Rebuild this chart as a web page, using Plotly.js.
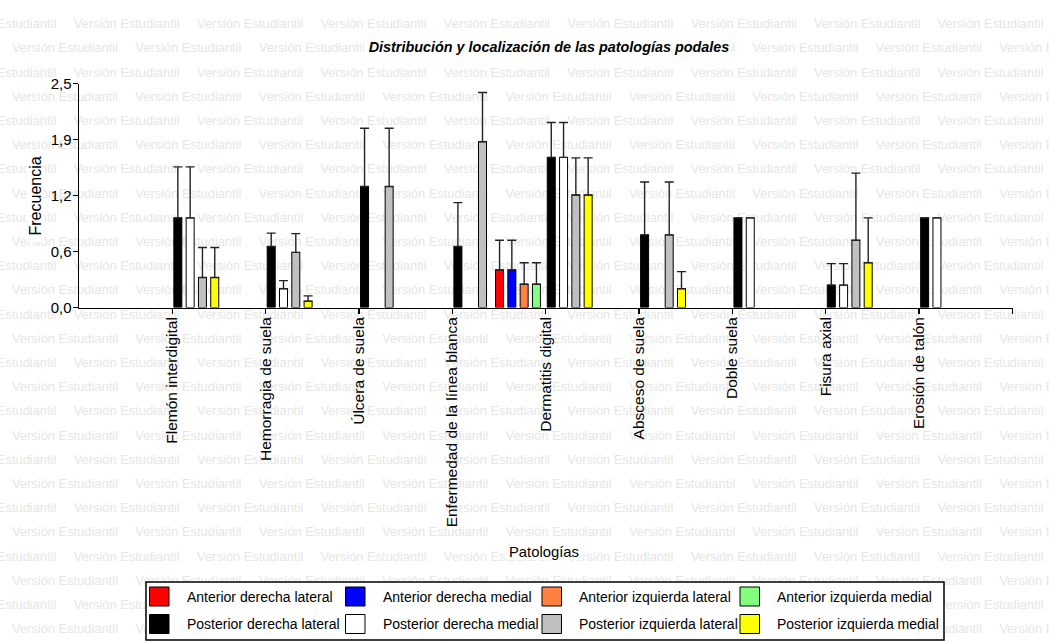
<!DOCTYPE html>
<html>
<head>
<meta charset="utf-8">
<script src="https://cdn.plot.ly/plotly-3.0.1.min.js"></script>
<style>
html,body{margin:0;padding:0;background:#fff;}
#chart{width:1049px;height:642px;}
</style>
</head>
<body>
<div id="chart"></div>
<script>
// ---------------- data ----------------
const categories = [
  'Flemón interdigital', 'Hemorragia de suela', 'Úlcera de suela',
  'Enfermedad de la línea blanca', 'Dermatitis digital', 'Absceso de suela',
  'Doble suela', 'Fisura axial', 'Erosión de talón'
];
const seriesNames = [
  'Anterior derecha lateral', 'Anterior derecha medial',
  'Anterior izquierda lateral', 'Anterior izquierda medial',
  'Posterior derecha lateral', 'Posterior derecha medial',
  'Posterior izquierda lateral', 'Posterior izquierda medial'
];
const seriesColors = ['#FF0000', '#0000FF', '#FF8040', '#80FF80', '#000000', '#FFFFFF', '#C0C0C0', '#FFFF00'];

const antDerLat     = [null, null, null, null, 0.42, null, null, null, null];
const antDerLatErr  = [null, null, null, null, 0.33, null, null, null, null];
const antDerMed     = [null, null, null, null, 0.42, null, null, null, null];
const antDerMedErr  = [null, null, null, null, 0.33, null, null, null, null];
const antIzqLat     = [null, null, null, null, 0.26, null, null, null, null];
const antIzqLatErr  = [null, null, null, null, 0.24, null, null, null, null];
const antIzqMed     = [null, null, null, null, 0.26, null, null, null, null];
const antIzqMedErr  = [null, null, null, null, 0.24, null, null, null, null];
const posDerLat     = [1.0, 0.68, 1.35, 0.68, 1.675, 0.81, 1.0, 0.25, 1.0];
const posDerLatErr  = [0.57, 0.15, 0.65, 0.49, 0.39, 0.59, null, 0.24, null];
const posDerMed     = [1.0, 0.21, null, null, 1.675, null, 1.0, 0.25, 1.0];
const posDerMedErr  = [0.57, 0.09, null, null, 0.39, null, null, 0.24, null];
const posIzqLat     = [0.335, 0.615, 1.35, 1.85, 1.255, 0.81, null, 0.75, null];
const posIzqLatErr  = [0.335, 0.21, 0.65, 0.55, 0.415, 0.59, null, 0.75, null];
const posIzqMed     = [0.335, 0.07, null, null, 1.255, 0.21, null, 0.5, null];
const posIzqMedErr  = [0.335, 0.06, null, null, 0.415, 0.19, null, 0.5, null];

const seriesValues = [antDerLat, antDerMed, antIzqLat, antIzqMed, posDerLat, posDerMed, posIzqLat, posIzqMed];
const seriesErrors = [antDerLatErr, antDerMedErr, antIzqLatErr, antIzqMedErr, posDerLatErr, posDerMedErr, posIzqLatErr, posIzqMedErr];

const yTickVals = [0, 0.625, 1.25, 1.875, 2.5];
const yTickText = ['0,0', '0,6', '1,2', '1,9', '2,5'];

const chartTitle = 'Distribución y localización de las patologías podales';
const xTitle = 'Patologías';
const yTitle = 'Frecuencia';
const watermarkText = 'Versión Estudiantil';

// ---------------- layout geometry (pixels) ----------------
const W = 1049, H = 642;
const plotL = 79, plotR = 1012.5, plotT = 83.5, plotB = 307.5;
const xMin = -1, xMax = categories.length;
const unitPx = (plotR - plotL) / (xMax - xMin);
const barPx = 8;
const barOffsetPx = [-50.2, -37.9, -25.6, -13.3, 1.5, 13.8, 26.1, 38.4];
const FONT = 'Liberation Sans, Arial, Helvetica, sans-serif';

const catIdx = categories.map((c, i) => i);

// legend box geometry
const lgL = 146, lgR = 944, lgT = 582, lgB = 640;
const colLeft = [149.5, 345.5, 542, 740];
const rowCenter = [596.5, 624];
// title mask box
const ttL = 364, ttR = 731, ttT = 37, ttB = 57;

// ---------------- traces ----------------
const traces = [];

// background watermark (on a hidden full-figure subplot, beneath the chart)
const wmX = [], wmY = [];
const wmHalf = 53.5;
function covered(cx, y, l, r, t, b) { return cx - wmHalf > l && cx + wmHalf < r && y > t && y < b; }
for (let r = 0; r < 27; r++) {
  const y = 25 + 24.2 * r;
  const shift = (r % 2 === 0) ? 3.3 : 65;
  for (let n = -1; n < 10; n++) {
    const cx = shift + 123.4 * n;
    if (cx + wmHalf < 0 || cx - wmHalf > W) continue;
    if (covered(cx, y, lgL, lgR, lgT, lgB) || covered(cx, y, ttL, ttR, ttT, ttB)) continue;
    wmX.push(cx); wmY.push(y);
  }
}
traces.push({
  type: 'scatter', mode: 'text', x: wmX, y: wmY,
  text: wmX.map(() => watermarkText), textposition: 'middle center',
  textfont: {family: FONT, size: 12.9, color: '#e6e6e6'},
  xaxis: 'x', yaxis: 'y', hoverinfo: 'skip', showlegend: false
});

seriesNames.forEach((name, k) => {
  traces.push({
    type: 'bar', name: name, xaxis: 'x2', yaxis: 'y2',
    x: catIdx, y: seriesValues[k],
    width: barPx / unitPx, offset: barOffsetPx[k] / unitPx,
    marker: {color: seriesColors[k], line: {color: '#000', width: 1}},
    error_y: {
      type: 'data', symmetric: false,
      array: seriesErrors[k], arrayminus: seriesErrors[k].map(v => v === null ? null : 0),
      color: '#222', thickness: 1.4, width: 4.5
    },
    showlegend: false,
    hovertemplate: '%{y}<extra>' + name + '</extra>'
  });
});

// ---------------- shapes & annotations ----------------
const shapes = [];
const annotations = [];
// white boxes behind titles
shapes.push({type: 'rect', xref: 'x', yref: 'y', x0: ttL, x1: ttR, y0: ttT, y1: ttB, fillcolor: '#fff', line: {width: 0}, layer: 'above'});
shapes.push({type: 'rect', xref: 'x', yref: 'y', x0: 27, x1: 44, y0: 151, y1: 242, fillcolor: '#fff', line: {width: 0}, layer: 'above'});
shapes.push({type: 'rect', xref: 'x', yref: 'y', x0: 505, x1: 583, y0: 543, y1: 560, fillcolor: '#fff', line: {width: 0}, layer: 'above'});

// axis titles
annotations.push({xref: 'x', yref: 'y', x: 544, y: 551.5, xanchor: 'center', yanchor: 'middle',
  text: xTitle, showarrow: false, font: {family: FONT, size: 14.8, color: '#000'}});
annotations.push({xref: 'x', yref: 'y', x: 35, y: 196.5, xanchor: 'center', yanchor: 'middle', textangle: -90,
  text: yTitle, showarrow: false, font: {family: FONT, size: 16, color: '#000'}});

// legend
shapes.push({type: 'rect', xref: 'x', yref: 'y', x0: lgL, x1: lgR, y0: lgT, y1: lgB, fillcolor: '#fff', line: {color: '#000', width: 1.5}, layer: 'above'});
seriesNames.forEach((name, k) => {
  const c = k % 4, r = Math.floor(k / 4);
  const sx = colLeft[c], sy = rowCenter[r];
  shapes.push({type: 'rect', xref: 'x', yref: 'y', x0: sx, x1: sx + 19.5, y0: sy - 9.5, y1: sy + 9.5,
    fillcolor: seriesColors[k], line: {color: '#000', width: 1}, layer: 'above'});
  annotations.push({xref: 'x', yref: 'y', x: sx + 35, y: sy, xanchor: 'left', yanchor: 'middle',
    text: name, showarrow: false, font: {family: FONT, size: 14, color: '#000'}});
});

const layout = {
  width: W, height: H,
  margin: {l: 0, r: 0, t: 0, b: 0, pad: 0, autoexpand: false},
  paper_bgcolor: '#fff', plot_bgcolor: 'rgba(0,0,0,0)',
  showlegend: false,
  barmode: 'overlay',
  font: {family: FONT, color: '#000'},
  title: {
    text: '<b><i>' + chartTitle + '</i></b>',
    x: 549 / W, xanchor: 'center', xref: 'container',
    y: 1 - 46.5 / H, yanchor: 'middle', yref: 'container',
    font: {family: FONT, size: 14.4, color: '#000'}
  },
  xaxis: {domain: [0, 1], range: [0, W], visible: false, fixedrange: true, automargin: false},
  yaxis: {domain: [0, 1], range: [H, 0], visible: false, fixedrange: true, automargin: false},
  xaxis2: {
    domain: [plotL / W, plotR / W], anchor: 'y2',
    range: [xMin, xMax], tickmode: 'array',
    tickvals: catIdx.concat([xMax]), ticktext: categories.concat(['']),
    tickangle: -90, ticks: 'outside', ticklen: 5, tickwidth: 1.4, tickcolor: '#000',
    ticklabelstandoff: -3,
    showline: true, linecolor: '#000', linewidth: 1.4,
    showgrid: false, zeroline: false, fixedrange: true,
    tickfont: {family: FONT, size: 15.5, color: '#000'},
    automargin: false
  },
  yaxis2: {
    domain: [1 - plotB / H, 1 - plotT / H], anchor: 'x2',
    range: [0, 2.5], tickmode: 'array', tickvals: yTickVals, ticktext: yTickText,
    ticks: 'outside', ticklen: 5, tickwidth: 1.4, tickcolor: '#000',
    ticklabelstandoff: -2,
    showline: true, linecolor: '#000', linewidth: 1.4,
    showgrid: false, zeroline: false, fixedrange: true,
    tickfont: {family: FONT, size: 15, color: '#000'},
    automargin: false
  },
  shapes: shapes,
  annotations: annotations
};

Plotly.newPlot('chart', traces, layout, {displayModeBar: false, staticPlot: true});
</script>
</body>
</html>
